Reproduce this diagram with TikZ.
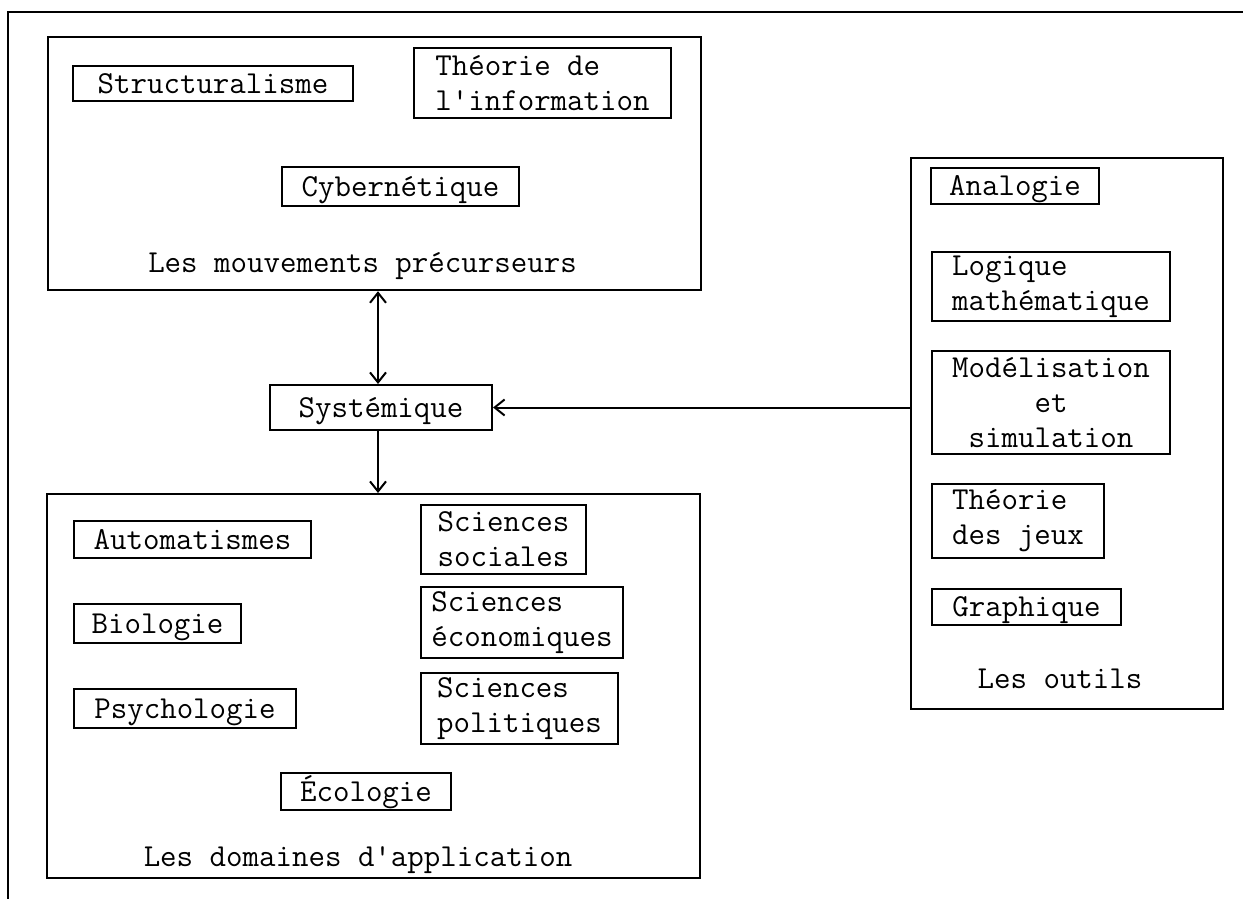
\documentclass[tikz,border=0pt]{standalone}
\usepackage{fontspec}
\usetikzlibrary{arrows.meta}
\tikzset{
  txt/.style={font=\ttfamily\fontsize{32}{35}\selectfont},
  item/.style={txt, draw, line width=2pt, anchor=north west, inner sep=0pt},
  one/.style={text height=19pt, text depth=0pt},
  area/.style={draw, line width=2.2pt, anchor=north west, inner sep=0pt},
  lbl/.style={txt, inner sep=0pt, anchor=base},
  conn/.style={line width=2pt},
  barb/.tip={Straight Barb[length=10pt,width=16pt]}
}
\begin{document}
\begin{tikzpicture}[x=1pt,y=1pt]
\useasboundingbox (0,0) rectangle (1243,-899);
% outer frame (top and left only)
\coordinate (fa) at (8,-899);
\coordinate (fb) at (8,-12);
\coordinate (fc) at (1243,-12);
\draw[line width=2pt] (fa) -- (fb) -- (fc);

% upper area
\node[area, minimum width=653pt, minimum height=253pt] (P) at (47,-36) {};
\node[item, one, minimum width=280pt, minimum height=35pt] (struct) at (72,-65) {Structuralisme};
\node[item, align=left, minimum width=257pt, minimum height=70pt] (info) at (413,-47) {Théorie de\\l'information};
\node[item, one, minimum width=237pt, minimum height=39pt] (cyber) at (281,-166) {Cybernétique};
\node[lbl] (Plbl) at (362.5,-272) {Les mouvements précurseurs};

% centre
\node[item, one, minimum width=222pt, minimum height=45pt] (sys) at (269,-384) {Systémique};

% lower area
\node[area, minimum width=653pt, minimum height=384pt] (D) at (46,-493) {};
\node[item, one, minimum width=237pt, minimum height=37pt] (auto) at (73,-520) {Automatismes};
\node[item, one, minimum width=167pt, minimum height=39pt] (bio) at (73,-603) {Biologie};
\node[item, one, minimum width=222pt, minimum height=39pt] (psy) at (73,-688) {Psychologie};
\node[item, one, minimum width=170pt, minimum height=37pt] (eco) at (280,-772) {Écologie};
\node[item, align=left, minimum width=165pt, minimum height=69pt] (soc) at (420,-504) {Sciences\\sociales};
\node[item, align=left, minimum width=202pt, minimum height=71pt] (econ) at (420,-586) {Sciences\\économiques};
\node[item, align=left, minimum width=197pt, minimum height=71pt] (pol) at (420,-672) {Sciences\\politiques};
\node[lbl] (Dlbl) at (358,-866) {Les domaines d'application};

% right area
\node[area, minimum width=312pt, minimum height=551pt] (O) at (910,-157) {};
\node[item, one, minimum width=168pt, minimum height=36pt] (ana) at (930,-167) {Analogie};
\node[item, align=left, minimum width=238pt, minimum height=69pt] (logi) at (931,-251) {Logique\\mathématique};
\node[item, align=center, minimum width=238pt, minimum height=103pt] (mod) at (931,-350) {Modélisation\\et\\simulation};
\node[item, align=left, minimum width=172pt, minimum height=74pt] (jeux) at (931,-483) {Théorie\\des jeux};
\node[item, one, minimum width=189pt, minimum height=36pt] (graph) at (931,-588) {Graphique};
\node[lbl] (Olbl) at (1060,-688) {Les outils};

% connectors
\draw[conn, {barb}-{barb}] (sys.north -| 378,0) -- (P.south -| 378,0);
\draw[conn, -{barb}] (sys.south -| 378,0) -- (D.north -| 378,0);
\draw[conn, -{barb}] (O.west |- sys.east) -- (sys.east);
\end{tikzpicture}
\end{document}
